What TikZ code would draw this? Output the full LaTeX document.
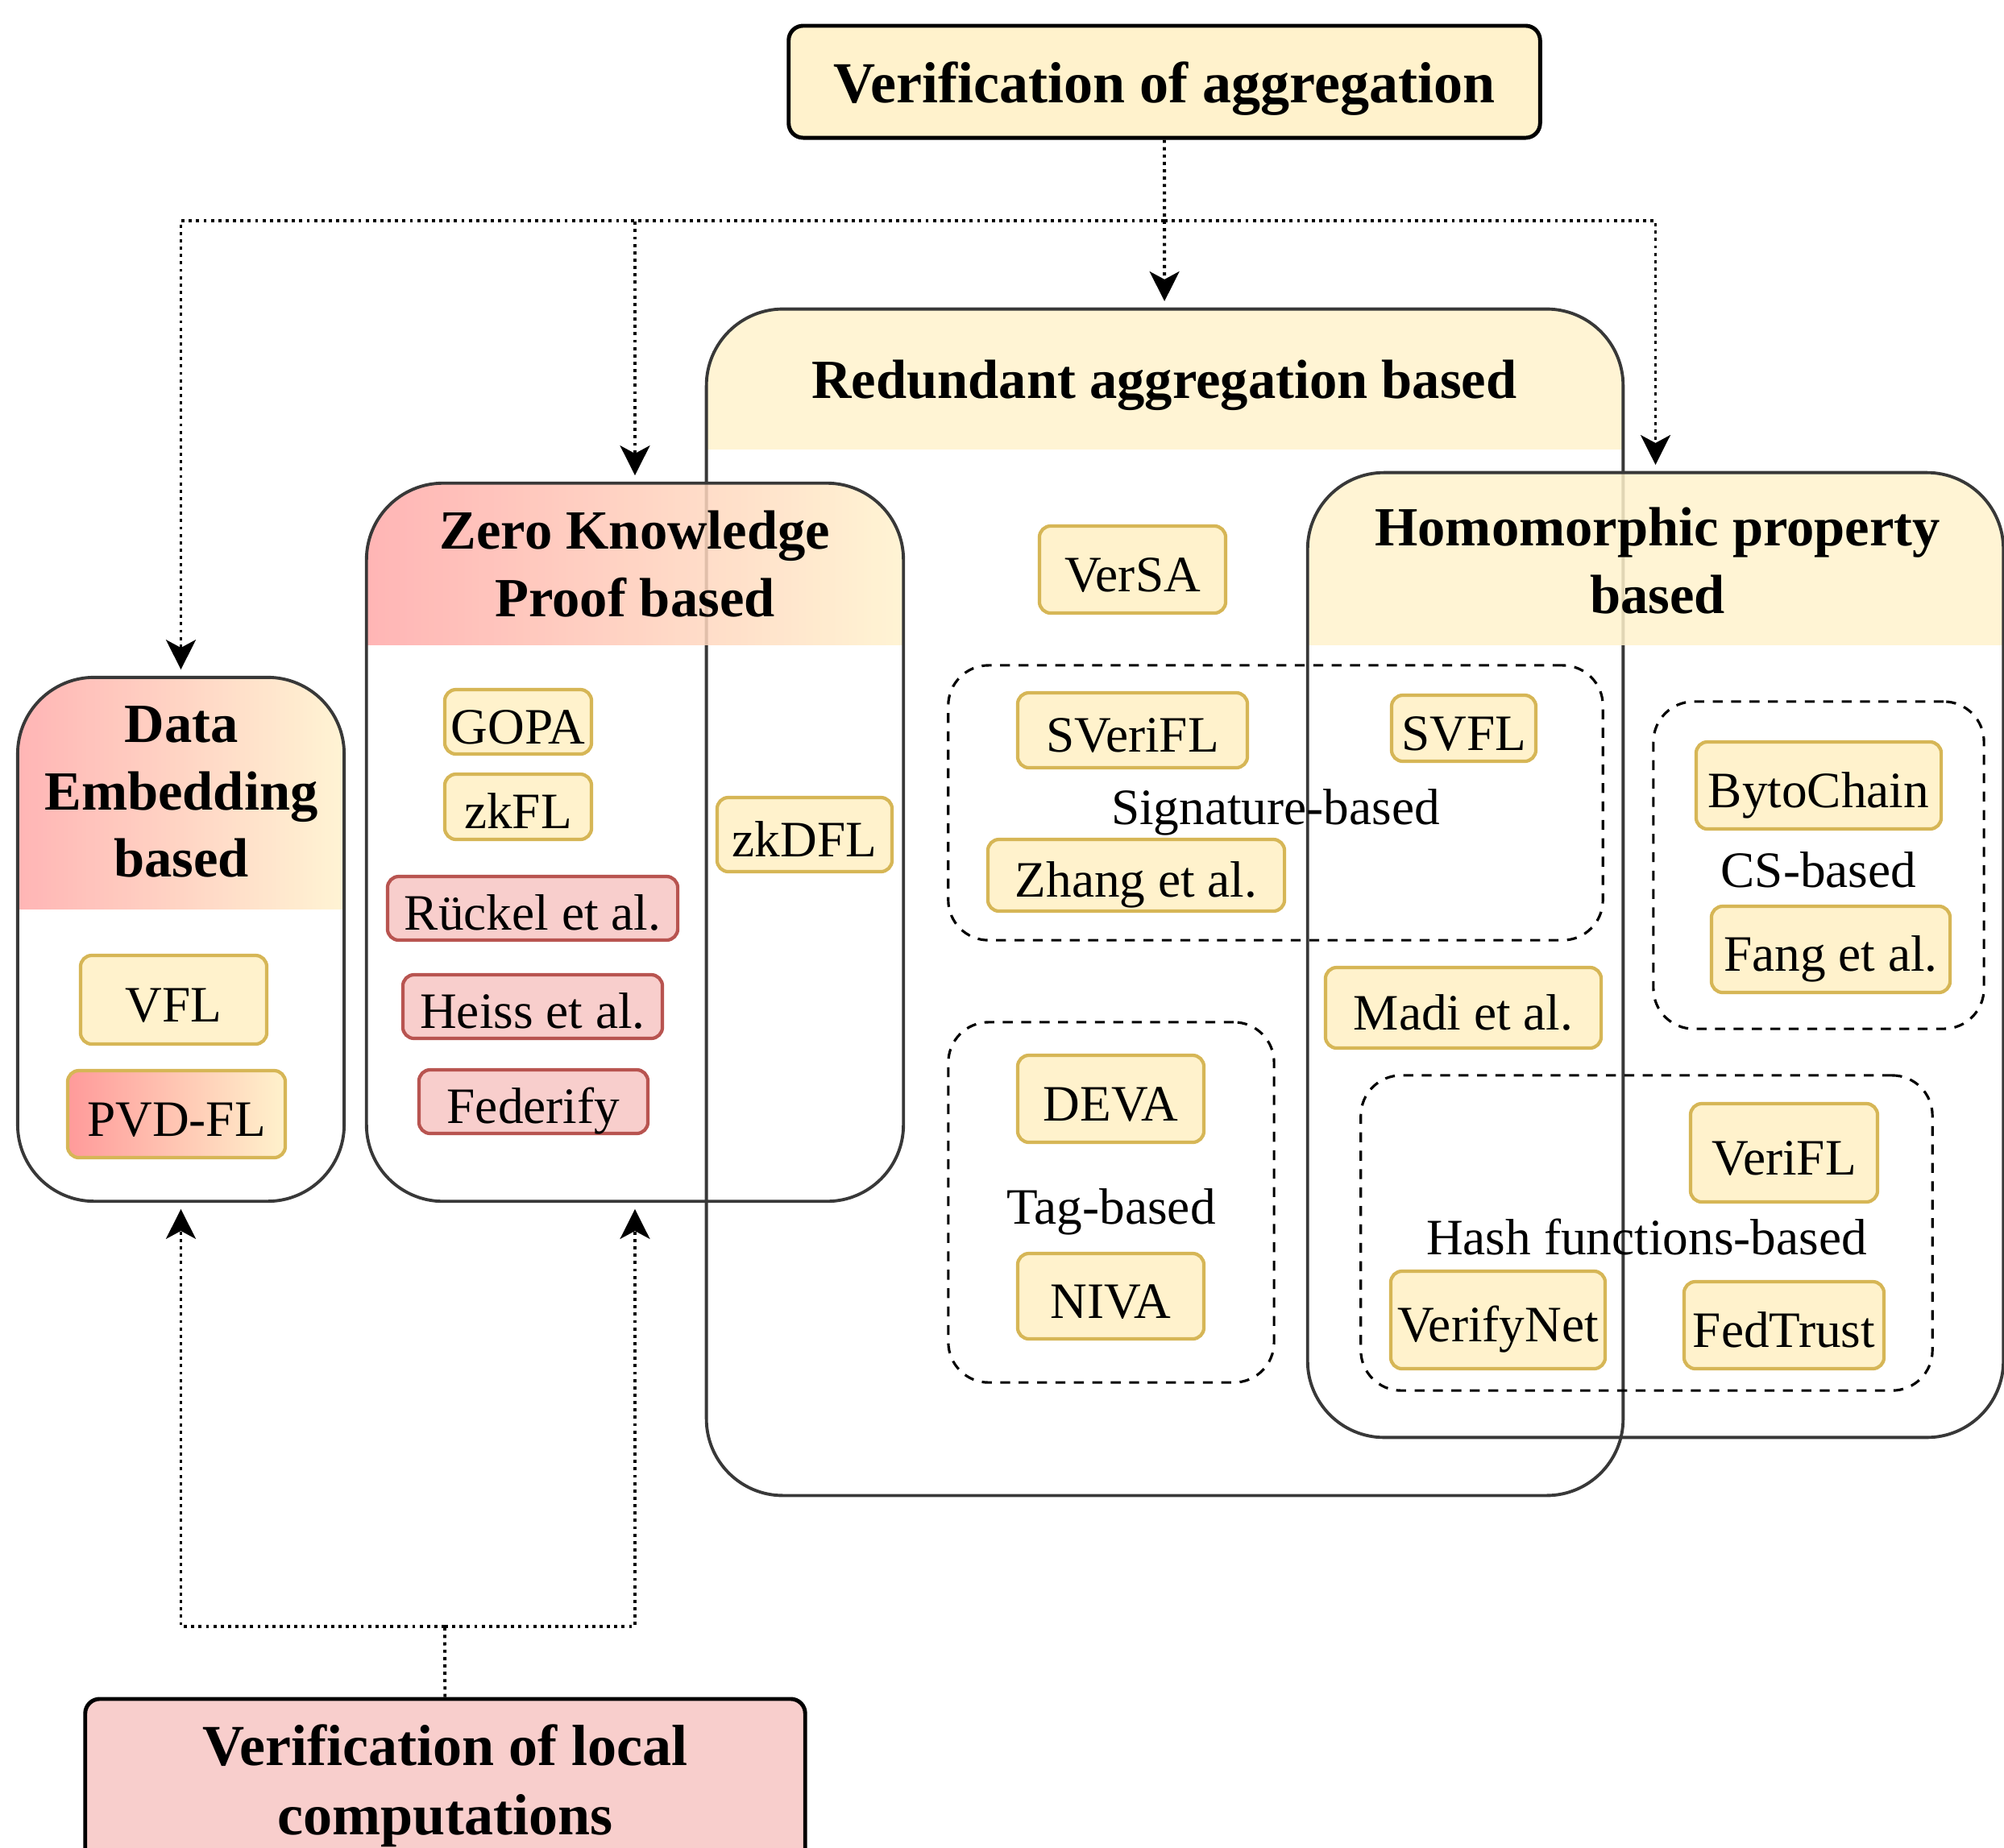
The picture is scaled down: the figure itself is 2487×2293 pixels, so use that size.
\documentclass[tikz,border=0pt]{standalone}
\usepackage{fontspec}
\setmainfont{Liberation Serif}
\usepackage{tikz}
\usetikzlibrary{positioning}
\usetikzlibrary{arrows.meta}
\usetikzlibrary{calc}

\definecolor{boxyellow}{HTML}{FFF2CC}
\definecolor{lineyellow}{HTML}{D6B656}
\definecolor{boxred}{HTML}{F8CECC}
\definecolor{linered}{HTML}{B85450}
\definecolor{hdrred}{HTML}{FFA8A8}
\definecolor{pvdred}{HTML}{FF9A9A}

\newcommand{\lblfont}{\fontsize{18}{21.6}\selectfont}
\newcommand{\hdrfont}{\fontsize{19.5}{23.8}\selectfont\bfseries}
\newcommand{\ttlfont}{\fontsize{20.5}{24.4}\selectfont\bfseries}

\begin{document}
\begin{tikzpicture}[x=0.01cm,y=-0.01cm]
\tikzset{oneline/.style 2 args={text height=#1, text depth=#2}}
\tikzset{title/.style={rectangle, rounded corners=0.18cm, draw=black, line width=1.4pt, fill=boxyellow, align=center, font=\ttlfont}}
\tikzset{group/.style={rectangle, rounded corners=0.95cm, draw=black!78, line width=1.1pt, inner sep=0pt}}
\tikzset{yhead/.style={path picture={\fill[sharp corners, boxyellow, fill opacity=0.85] ([yshift=2pt]path picture bounding box.north west) rectangle ([yshift=-#1]path picture bounding box.north east);}}}
\tikzset{rhead/.style={path picture={\shade[sharp corners, left color=hdrred, right color=boxyellow, opacity=0.85] ([yshift=2pt]path picture bounding box.north west) rectangle ([yshift=-#1]path picture bounding box.north east);}}}
\tikzset{method/.style={rectangle, rounded corners=0.14cm, draw=lineyellow, fill=boxyellow, line width=1.2pt, font=\lblfont, inner sep=0pt, oneline={18pt}{2.4pt}}}
\tikzset{methodred/.style={method, draw=linered, fill=boxred}}
\tikzset{cluster/.style={rectangle, rounded corners=0.5cm, draw, dash pattern=on 3.5pt off 3pt, line width=0.9pt, font=\lblfont, inner sep=0pt, oneline={18pt}{2.4pt}}}
\tikzset{connector/.style={draw, line width=1.1pt, dash pattern=on 1.1pt off 1.5pt}}
\tikzset{arrowhd/.style={-{Stealth[length=10.5pt,width=10.5pt,inset=2.8pt]}, shorten >=2.2pt}}
\useasboundingbox (0,0) rectangle (2487,2293);

% containers
\node[group, yhead=1.74cm, minimum width=11.37cm, minimum height=14.72cm] (redund) at (1445.5,1120) {};
\node[group, rhead=2.01cm, minimum width=6.66cm, minimum height=8.91cm] (zkp) at (788,1045.5) {};
\node[group, rhead=2.88cm, minimum width=4.05cm, minimum height=6.50cm] (dataemb) at (224.5,1166) {};
\node[group, yhead=2.14cm, minimum width=8.63cm, minimum height=11.97cm] (homo) at (2054.5,1185.5) {};

\node[font=\hdrfont, oneline={16pt}{2.9pt}] (redundtxt) at (1445,471) {Redundant aggregation based};
\node[font=\hdrfont, align=center] (zkptxt) at (788,700) {Zero Knowledge\\Proof based};
\node[font=\hdrfont, align=center] (dataembtxt) at (225,983) {Data\\Embedding\\based};
\node[font=\hdrfont, align=center] (homotxt) at (2057,696) {Homomorphic property\\based};

% dashed clusters
\node[cluster, minimum width=8.12cm, minimum height=3.41cm] (sig) at (1583,996.5) {Signature-based};
\node[cluster, minimum width=4.04cm, minimum height=4.47cm] (tag) at (1379,1492.5) {Tag-based};
\node[cluster, minimum width=4.10cm, minimum height=4.06cm] (cs) at (2257,1074) {CS-based};
\node[cluster, minimum width=7.09cm, minimum height=3.91cm] (hash) at (2043.5,1530.5) {Hash functions-based};

% methods
\node[method, minimum width=1.82cm, minimum height=0.80cm] (gopa) at (643,896) {GOPA};
\node[method, minimum width=1.82cm, minimum height=0.81cm] (zkfl) at (643,1001.5) {zkFL};
\node[methodred, minimum width=3.60cm, minimum height=0.79cm] (ruckel) at (661,1127.5) {Rückel et al.};
\node[methodred, minimum width=3.22cm, minimum height=0.79cm] (heiss) at (661,1249.5) {Heiss et al.};
\node[methodred, minimum width=2.84cm, minimum height=0.79cm] (federify) at (662,1367.5) {Federify};
\node[method, minimum width=2.31cm, minimum height=1.10cm] (vfl) at (215.5,1241) {VFL};
\node[method, left color=pvdred, right color=boxyellow, minimum width=2.70cm, minimum height=1.08cm] (pvdfl) at (219,1383) {PVD-FL};
\node[method, minimum width=2.17cm, minimum height=0.92cm] (zkdfl) at (998.5,1036) {zkDFL};
\node[method, minimum width=2.31cm, minimum height=1.08cm] (versa) at (1405.5,707) {VerSA};
\node[method, minimum width=2.85cm, minimum height=0.93cm] (sverifl) at (1405.5,906.5) {SVeriFL};
\node[method, minimum width=1.79cm, minimum height=0.82cm] (svfl) at (1816.5,904) {SVFL};
\node[method, minimum width=3.68cm, minimum height=0.89cm] (zhang) at (1410,1086.5) {Zhang et al.};
\node[method, minimum width=2.31cm, minimum height=1.08cm] (deva) at (1378.5,1364) {DEVA};
\node[method, minimum width=2.31cm, minimum height=1.06cm] (niva) at (1378.5,1609) {NIVA};
\node[method, minimum width=3.42cm, minimum height=1.00cm] (madi) at (1816,1251) {Madi et al.};
\node[method, minimum width=3.04cm, minimum height=1.08cm] (byto) at (2257,975) {BytoChain};
\node[method, minimum width=2.96cm, minimum height=1.07cm] (fang) at (2272,1178.5) {Fang et al.};
\node[method, minimum width=2.32cm, minimum height=1.22cm] (verifl) at (2214,1431) {VeriFL};
\node[method, minimum width=2.66cm, minimum height=1.21cm] (verifynet) at (1859,1638.5) {VerifyNet};
\node[method, minimum width=2.48cm, minimum height=1.08cm] (fedtrust) at (2214,1645) {FedTrust};

% roots
\node[title, oneline={18pt}{3.3pt}, minimum width=9.32cm, minimum height=1.39cm] (aggr) at (1445,101.5) {Verification of aggregation};
\node[title, fill=boxred, minimum width=8.93cm, minimum height=2.15cm] (local) at (552.5,2216.5) {Verification of local\\computations};

\coordinate (split) at (1445,274);
\coordinate (join) at (552,2019);
\draw[connector, arrowhd] (aggr) -- (redund);
\draw[connector, arrowhd] (split) -| (dataemb);
\draw[connector, arrowhd] (split) -| (zkp);
\draw[connector, arrowhd] (split) -| (homo);
\draw[connector] (local) -- (join);
\draw[connector, arrowhd] (join) -| (dataemb);
\draw[connector, arrowhd] (join) -| (zkp);
\end{tikzpicture}
\end{document}
